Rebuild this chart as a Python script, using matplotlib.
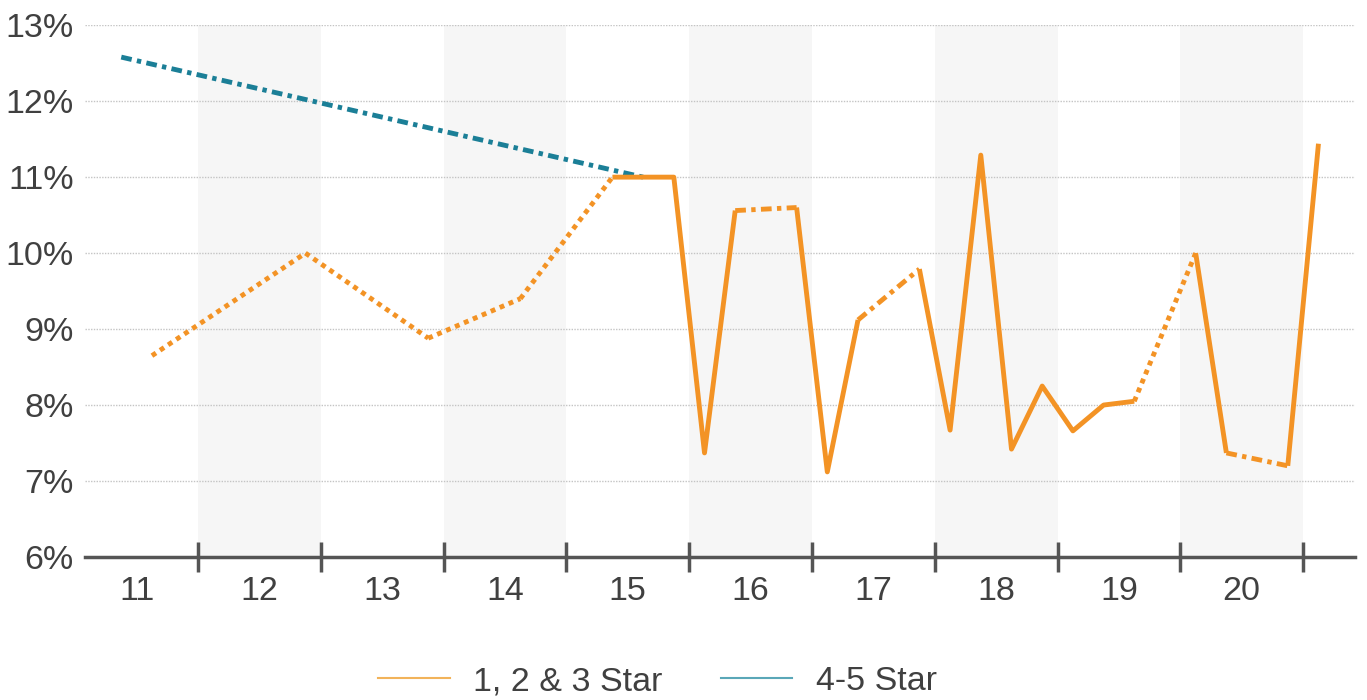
import matplotlib
matplotlib.use("Agg")
import matplotlib.pyplot as plt
import numpy as np

plt.rcParams['font.family'] = ['Liberation Sans', 'DejaVu Sans']

# quarterly series, None = no value for that quarter
quarters = ["11Q1", "11Q2", "11Q3", "11Q4", "12Q1", "12Q2", "12Q3", "12Q4",
            "13Q1", "13Q2", "13Q3", "13Q4", "14Q1", "14Q2", "14Q3", "14Q4",
            "15Q1", "15Q2", "15Q3", "15Q4", "16Q1", "16Q2", "16Q3", "16Q4",
            "17Q1", "17Q2", "17Q3", "17Q4", "18Q1", "18Q2", "18Q3", "18Q4",
            "19Q1", "19Q2", "19Q3", "19Q4", "20Q1", "20Q2", "20Q3", "20Q4",
            "21Q1"]
star_123 = [None, None, 8.65, None, None, None, None, 10.0,
            None, None, None, 8.88, None, None, 9.4, None,
            None, 11.0, 11.0, 11.0, 7.37, 10.56, None, 10.6,
            7.12, 9.12, None, 9.79, 7.67, 11.29, 7.42, 8.25,
            7.66, 8.0, 8.05, None, 10.0, 7.37, None, 7.2,
            11.44]
star_45 = [None, 12.58, None, None, None, None, None, None,
           None, None, None, None, None, None, None, None,
           None, None, 11.0, None, None, None, None, None,
           None, None, None, None, None, None, None, None,
           None, None, None, None, None, None, None, None,
           None]
# missing quarters whose bridge is drawn dash-dot instead of dotted
dashdot_gaps = ["16Q3", "17Q3", "20Q3"]

years = list(range(11, 21))
year_labels = [str(y) for y in years]

orange = "#F39325"
teal = "#1B7F97"
dotted = (0, (1, 1))
dashdot = (0, (2.2, 1.1, 0.9, 1.1))


def qpos(q):
    return int(q[:2]) + (int(q[3]) - 1) / 4 + 0.125


xs = np.array([qpos(q) for q in quarters])

fig = plt.figure(figsize=(13.67, 7), dpi=100)
ax = fig.add_axes([0.0622, 0.2043, 0.9288, 0.7597])

# alternating year bands
for y in years[1::2]:
    ax.axvspan(y, y + 1, color="#f6f6f6", zorder=0, lw=0)

for v in range(7, 14):
    ax.axhline(v, color="#c4c4c4", lw=1, ls=dotted, zorder=1)


def draw_series(vals, color, gap_default):
    arr = np.array([np.nan if v is None else v for v in vals])
    ax.plot(xs, arr, color=color, lw=3.5, solid_joinstyle="round",
            solid_capstyle="butt", zorder=3)
    idx = [i for i, v in enumerate(vals) if v is not None]
    for a, b in zip(idx[:-1], idx[1:]):
        if b - a > 1:
            missing = quarters[a + 1:b]
            ls = dashdot if any(m in dashdot_gaps for m in missing) else gap_default
            ax.plot(xs[[a, b]], arr[[a, b]], color=color, lw=3.5, ls=ls,
                    dash_capstyle="butt", zorder=3)


draw_series(star_45, teal, dashdot)
draw_series(star_123, orange, dotted)

ax.set_xlim(11.08, 21.42)
ax.set_ylim(6, 13)
ax.set_yticks(range(6, 14))
ax.set_yticklabels([f"{v}%" for v in range(6, 14)])

ax.set_xticks(range(12, 22))
ax.set_xticklabels([])
ax.set_xticks([y + 0.5 for y in years], minor=True)
ax.set_xticklabels(year_labels, minor=True)
ax.tick_params(axis="x", which="major", direction="inout", length=22,
               width=2.5, color="#555555")
ax.tick_params(axis="x", which="minor", length=0, pad=14,
               labelsize=24.5, labelcolor="#404040")
ax.tick_params(axis="y", length=0, pad=8, labelsize=24.5, labelcolor="#404040")

for s in ["top", "right", "left"]:
    ax.spines[s].set_visible(False)
ax.spines["bottom"].set_color("#555555")
ax.spines["bottom"].set_linewidth(2.5)
ax.spines["bottom"].set_zorder(4)

handles = [plt.Line2D([], [], color="#F2B35A", lw=1.5),
           plt.Line2D([], [], color="#5AA7B8", lw=1.5)]
fig.legend(handles, ["1, 2 & 3 Star", "4-5 Star"], loc="center",
           bbox_to_anchor=(0.481, 0.026), ncol=2, frameon=False,
           fontsize=24.5, labelcolor="#404040", handlelength=2.1,
           handletextpad=0.7, columnspacing=1.7)

fig.savefig("out.png", dpi=100)
